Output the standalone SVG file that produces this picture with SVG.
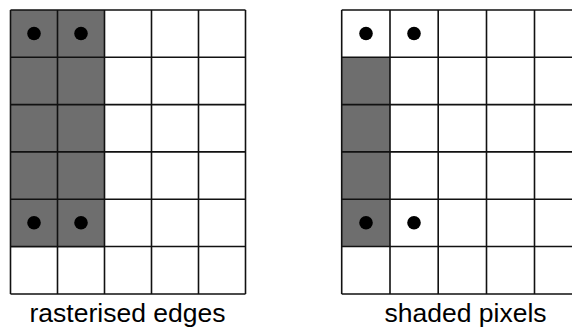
<svg xmlns="http://www.w3.org/2000/svg" width="572" height="329" viewBox="0 0 572 329">
<defs>
<style>
.grid{fill:none;stroke:#111;stroke-width:1.6}
.shade{fill:#6e6e6e}
.dot{fill:#000}
.lbl{font-family:"Liberation Sans",Arial,sans-serif;font-size:26.5px;fill:#000;text-anchor:middle}
</style>
</defs>
<rect width="572" height="329" fill="#fff"/>
<g id="left">
<rect class="shade" x="10.5" y="10" width="94" height="237.5"/>
<path class="grid" d="M10.5 10H245.5M10.5 57.3H245.5M10.5 104.6H245.5M10.5 151.9H245.5M10.5 199.2H245.5M10.5 246.5H245.5M10.5 294H245.5M10.5 10V294M57.5 10V294M104.5 10V294M151.5 10V294M198.5 10V294M245.5 10V294"/>
<circle class="dot" cx="34" cy="33.5" r="6.8"/>
<circle class="dot" cx="81" cy="33.5" r="6.8"/>
<circle class="dot" cx="34" cy="222.8" r="6.8"/>
<circle class="dot" cx="81" cy="222.8" r="6.8"/>
<text class="lbl" x="127.5" y="321.5">rasterised edges</text>
</g>
<g id="right">
<rect class="shade" x="341.7" y="57.3" width="48.3" height="189.2"/>
<path class="grid" d="M341.7 10H580M341.7 57.3H580M341.7 104.6H580M341.7 151.9H580M341.7 199.2H580M341.7 246.5H580M341.7 294H580M341.7 10V294M390 10V294M438.2 10V294M486.5 10V294M534.5 10V294"/>
<circle class="dot" cx="366" cy="33.5" r="6.8"/>
<circle class="dot" cx="414" cy="33.5" r="6.8"/>
<circle class="dot" cx="366" cy="222.8" r="6.8"/>
<circle class="dot" cx="414" cy="222.8" r="6.8"/>
<text class="lbl" x="465.5" y="321.5">shaded pixels</text>
</g>
<g id="connectors"/>
</svg>
